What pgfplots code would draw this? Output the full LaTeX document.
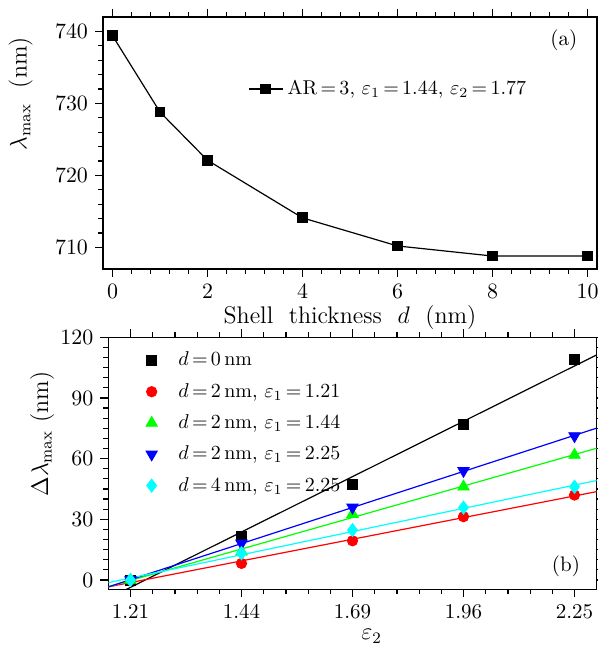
\documentclass[border=0pt]{standalone}
\usepackage{pgfplots}
\pgfplotsset{compat=1.18}
\definecolor{pcyan}{rgb}{0,1,1}
\definecolor{pgreen}{rgb}{0,1,0}
\definecolor{pred}{rgb}{1,0,0}
\definecolor{pblue}{rgb}{0,0,1}
\newcommand{\eqa}{\mskip3mu{=}\mskip3mu}
\begin{document}
\begin{tikzpicture}
\useasboundingbox (0,0) rectangle (299pt,323.5pt);
\pgfplotsset{
  every axis/.append style={
    scale only axis,
    axis line style={line width=0.75pt},
    tick align=outside,
    tick pos=both,
    major tick length=4pt,
    minor tick length=2.5pt,
    every tick/.style={black, line width=0.6pt},
    tick label style={font=\fontsize{10.5}{12}\selectfont},
    label style={font=\fontsize{12}{14}\selectfont},
  }
}
% ---------- (a) ----------
\begin{axis}[
  at={(51.5pt,189pt)}, anchor=south west,
  width=247pt, height=126pt,
  xmin=-0.2, xmax=10.2, ymin=707, ymax=742,
  xtick={0,2,4,6,8,10}, ytick={710,720,730,740},
  minor x tick num=4, minor y tick num=4,
  xlabel={Shell\ \ thickness\ \ $d$\ \ (nm)},
  ylabel={$\lambda_{\max}$\ \ (nm)},
  xlabel style={at={(axis description cs:0.5,-0.194)}, anchor=center, inner sep=0pt},
  ylabel style={at={(axis description cs:-0.1666,0.696)}, anchor=center, inner sep=0pt},
  legend style={draw=none, fill=none, at={(axis description cs:0.281,0.714)}, anchor=west,
    font=\fontsize{10}{12}\selectfont, legend cell align=left},
]
\addplot[black, line width=0.6pt, mark=square*, mark size=2.4pt] coordinates {
  (0,739.4) (1,728.8) (2,722.1) (4,714.1) (6,710.2) (8,708.8) (10,708.8)
};
\addlegendentry{$\mathrm{AR}\eqa 3$, $\varepsilon_1\eqa 1.44$, $\varepsilon_2\eqa 1.77$}
\node[font=\fontsize{10.5}{12}\selectfont] at (axis description cs:0.933,0.909) {(a)};
\end{axis}
% ---------- (b) ----------
\begin{axis}[
  at={(54.15pt,28.85pt)}, anchor=south west,
  width=244.2pt, height=126pt,
  xmin=1.08, xmax=1.52, ymin=-4.6, ymax=120,
  xtick={1.1,1.2,1.3,1.4,1.5},
  xticklabels={1.21,1.44,1.69,1.96,2.25},
  ytick={0,30,60,90,120},
  minor x tick num=4, minor y tick num=5,
  xlabel={$\varepsilon_2$},
  ylabel={$\Delta\lambda_{\max}$\ (nm)},
  xlabel style={at={(axis description cs:0.539,-0.158)}, anchor=north, inner sep=0pt},
  ylabel style={at={(axis description cs:-0.1357,0.6155)}, anchor=center, inner sep=0pt},
  legend style={draw=none, fill=none, at={(axis description cs:0.064,0.975)}, anchor=north west,
    font=\fontsize{10}{12}\selectfont, legend cell align=left,
    row sep=3.2pt,
    /tikz/every odd column/.append style={column sep=8.5pt}},
]
\addplot[only marks, black, mark=square*, mark size=2.5pt] coordinates {
  (1.1,0) (1.2,21.8) (1.3,47.5) (1.4,77.1) (1.5,109.1)};
\addlegendentry{$d\eqa 0\,\mathrm{nm}$}
\addplot[only marks, pred, mark=*, mark size=2.6pt] coordinates {
  (1.1,0) (1.2,8.2) (1.3,19.4) (1.4,31.3) (1.5,42.0)};
\addlegendentry{$d\eqa 2\,\mathrm{nm}$, $\varepsilon_1\eqa 1.21$}
\addplot[only marks, pgreen, mark=triangle*, mark size=3.3pt] coordinates {
  (1.1,0) (1.2,14.0) (1.3,32.6) (1.4,46.1) (1.5,61.8)};
\addlegendentry{$d\eqa 2\,\mathrm{nm}$, $\varepsilon_1\eqa 1.44$}
\addplot[only marks, pblue, mark=triangle*, mark size=3.3pt, mark options={rotate=180}] coordinates {
  (1.1,0) (1.2,18.1) (1.3,35.9) (1.4,54.0) (1.5,71.2)};
\addlegendentry{$d\eqa 2\,\mathrm{nm}$, $\varepsilon_1\eqa 2.25$}
\addplot[only marks, pcyan, mark=diamond*, mark size=3.3pt] coordinates {
  (1.1,0) (1.2,13.2) (1.3,24.7) (1.4,35.8) (1.5,46.1)};
\addlegendentry{$d\eqa 4\,\mathrm{nm}$, $\varepsilon_1\eqa 2.25$}
% linear fits
\addplot[black, line width=0.6pt, forget plot] coordinates {(1.08,-9.1) (1.52,111.3)};
\addplot[pred, line width=0.6pt, forget plot] coordinates {(1.08,-3.4) (1.52,43.7)};
\addplot[pgreen, line width=0.6pt, forget plot] coordinates {(1.08,-3.35) (1.52,65.15)};
\addplot[pblue, line width=0.6pt, forget plot] coordinates {(1.08,-3.4) (1.52,75.1)};
\addplot[pcyan, line width=0.6pt, forget plot] coordinates {(1.08,-1.3) (1.52,49.2)};
\node[font=\fontsize{10.5}{12}\selectfont] at (axis description cs:0.937,0.091) {(b)};
\end{axis}
\end{tikzpicture}
\end{document}
